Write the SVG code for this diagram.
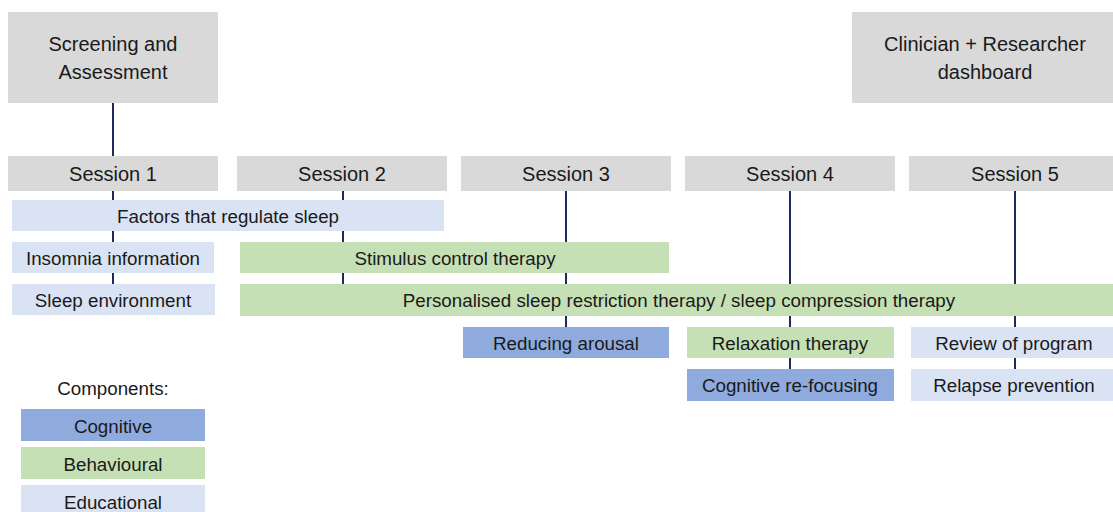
<svg xmlns="http://www.w3.org/2000/svg" width="1113" height="512" viewBox="0 0 1113 512">
<style>
.gray{fill:#d9d9d9}
.edu{fill:#dae3f3}
.beh{fill:#c5e0b4}
.cog{fill:#8faadc}
text{font-family:"Liberation Sans",Arial,sans-serif;fill:#1a1a1a;text-anchor:middle;dominant-baseline:central}
.h{font-size:20px}
.b{font-size:18.75px}
.conn line{stroke:#1f2a5c;stroke-width:2}
</style>
<rect width="1113" height="512" fill="#fff"/>
<g class="conn">
<line x1="113" y1="102" x2="113" y2="156"/>
<line x1="113" y1="190" x2="113" y2="200"/>
<line x1="113" y1="231" x2="113" y2="242"/>
<line x1="113" y1="273" x2="113" y2="284"/>
<line x1="343" y1="190" x2="343" y2="200"/>
<line x1="343" y1="231" x2="343" y2="242"/>
<line x1="343" y1="273" x2="343" y2="284"/>
<line x1="566" y1="190" x2="566" y2="242"/>
<line x1="566" y1="273" x2="566" y2="284"/>
<line x1="566" y1="316" x2="566" y2="327"/>
<line x1="790" y1="190" x2="790" y2="284"/>
<line x1="790" y1="316" x2="790" y2="327"/>
<line x1="790" y1="358" x2="790" y2="369"/>
<line x1="1015" y1="190" x2="1015" y2="284"/>
<line x1="1015" y1="316" x2="1015" y2="327"/>
<line x1="1015" y1="358" x2="1015" y2="369"/>
</g>
<g id="screening"><rect class="gray" x="8" y="12" width="210" height="91"/><text class="h" x="113" y="44">Screening and</text><text class="h" x="113" y="72">Assessment</text></g>
<g id="dashboard"><rect class="gray" x="852" y="12" width="261" height="91"/><text class="h" x="985" y="44">Clinician + Researcher</text><text class="h" x="985" y="72">dashboard</text></g>
<g id="session1"><rect class="gray" x="8" y="156" width="210" height="35"/><text class="h" x="113" y="174">Session 1</text></g>
<g id="session2"><rect class="gray" x="237" y="156" width="210" height="35"/><text class="h" x="342" y="174">Session 2</text></g>
<g id="session3"><rect class="gray" x="461" y="156" width="210" height="35"/><text class="h" x="566" y="174">Session 3</text></g>
<g id="session4"><rect class="gray" x="685" y="156" width="210" height="35"/><text class="h" x="790" y="174">Session 4</text></g>
<g id="session5"><rect class="gray" x="909" y="156" width="204" height="35"/><text class="h" x="1015" y="174">Session 5</text></g>
<g id="factors"><rect class="edu" x="12" y="200" width="432" height="31"/><text class="b" x="228" y="216">Factors that regulate sleep</text></g>
<g id="insomnia"><rect class="edu" x="12" y="242" width="202" height="31"/><text class="b" x="113" y="258">Insomnia information</text></g>
<g id="environment"><rect class="edu" x="12" y="284" width="203" height="31"/><text class="b" x="113" y="300">Sleep environment</text></g>
<g id="stimulus"><rect class="beh" x="240" y="242" width="429" height="31"/><text class="b" x="455" y="258">Stimulus control therapy</text></g>
<g id="restriction"><rect class="beh" x="240" y="284" width="873" height="32"/><text class="b" x="679" y="300">Personalised sleep restriction therapy / sleep compression therapy</text></g>
<g id="arousal"><rect class="cog" x="463" y="327" width="206" height="31"/><text class="b" x="566" y="343">Reducing arousal</text></g>
<g id="relaxation"><rect class="beh" x="687" y="327" width="207" height="31"/><text class="b" x="790" y="343">Relaxation therapy</text></g>
<g id="refocusing"><rect class="cog" x="687" y="369" width="207" height="32"/><text class="b" x="790" y="385">Cognitive re-focusing</text></g>
<g id="review"><rect class="edu" x="911" y="327" width="202" height="31"/><text class="b" x="1014" y="343">Review of program</text></g>
<g id="relapse"><rect class="edu" x="911" y="369" width="202" height="32"/><text class="b" x="1014" y="385">Relapse prevention</text></g>
<g id="legend">
<text class="b" x="113" y="388">Components:</text>
<rect class="cog" x="21" y="409" width="184" height="32"/><text class="b" x="113" y="426">Cognitive</text>
<rect class="beh" x="21" y="447" width="184" height="32"/><text class="b" x="113" y="464">Behavioural</text>
<rect class="edu" x="21" y="485" width="184" height="30"/><text class="b" x="113" y="502">Educational</text>
</g>
</svg>
